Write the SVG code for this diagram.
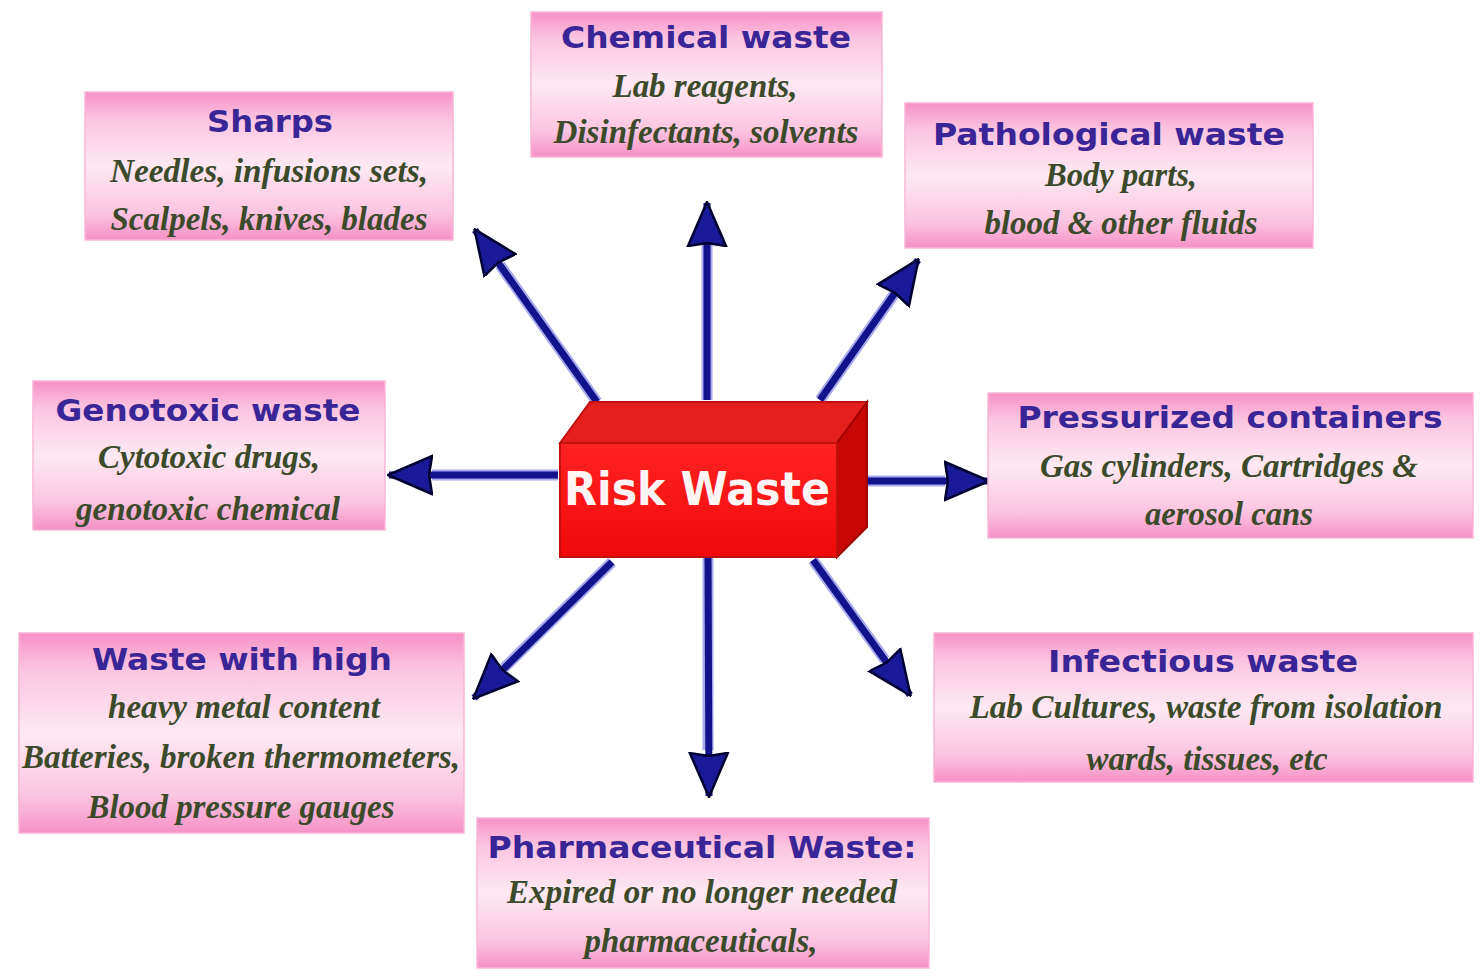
<svg xmlns="http://www.w3.org/2000/svg" width="1483" height="980" viewBox="0 0 1483 980">
<defs>
<linearGradient id="pink" x1="0" y1="0" x2="0" y2="1">
<stop offset="0" stop-color="#f591c6"/>
<stop offset="0.18" stop-color="#fbc4e0"/>
<stop offset="0.5" stop-color="#fee9f3"/>
<stop offset="0.82" stop-color="#fbc4e0"/>
<stop offset="1" stop-color="#f591c6"/>
</linearGradient>
<linearGradient id="front" x1="0" y1="0" x2="0" y2="1">
<stop offset="0" stop-color="#ff2222"/>
<stop offset="1" stop-color="#f00a0a"/>
</linearGradient>
<marker id="head" viewBox="0 0 46 42" refX="44" refY="21" markerWidth="46" markerHeight="42" markerUnits="userSpaceOnUse" orient="auto">
<path d="M1,2 L45,21 L1,40 L4,21 z" fill="#1a1a98" stroke="#000030" stroke-width="2.5" stroke-linejoin="miter"/>
</marker>
<style>
.box{fill:url(#pink);stroke:#f7b6d6;stroke-width:1.5}
.title{font-family:"DejaVu Sans",Verdana,sans-serif;font-weight:bold;font-size:31px;fill:#3a2596;text-anchor:middle}
.sub{font-family:"Liberation Serif","Times New Roman",serif;font-style:italic;font-weight:bold;font-size:33px;fill:#3b4a2b;text-anchor:middle}
.halo{stroke:#a8a8ec;stroke-width:11;fill:none;stroke-linecap:butt}
.arr{stroke:#12128a;stroke-width:7;fill:none;marker-end:url(#head)}
</style>
</defs>
<rect width="1483" height="980" fill="#ffffff"/>

<g id="connectors">
<line class="halo" x1="707" y1="400" x2="707" y2="245"/>
<line class="arr" x1="707" y1="400" x2="707" y2="203"/>
<line class="halo" x1="597" y1="402" x2="500" y2="265"/>
<line class="arr" x1="597" y1="402" x2="475" y2="230"/>
<line class="halo" x1="820" y1="400" x2="895" y2="293"/>
<line class="arr" x1="820" y1="400" x2="918" y2="260"/>
<line class="halo" x1="558" y1="475" x2="432" y2="475"/>
<line class="arr" x1="558" y1="475" x2="389" y2="475"/>
<line class="halo" x1="866" y1="481" x2="945" y2="481"/>
<line class="arr" x1="866" y1="481" x2="988" y2="481"/>
<line class="halo" x1="612" y1="562" x2="504" y2="668"/>
<line class="arr" x1="612" y1="562" x2="474" y2="698"/>
<line class="halo" x1="708" y1="557" x2="708" y2="750"/>
<line class="arr" x1="708" y1="557" x2="709" y2="796"/>
<line class="halo" x1="813" y1="560" x2="885" y2="660"/>
<line class="arr" x1="813" y1="560" x2="910" y2="695"/>
</g>

<g id="risk-waste">
<polygon points="560,443 590,402 867,402 837,443" fill="#e51e1e" stroke="#c01010" stroke-width="2"/>
<polygon points="837,443 867,402 867,527 837,557" fill="#c80606" stroke="#a00000" stroke-width="2"/>
<rect x="560" y="443" width="277" height="114" fill="url(#front)" stroke="#c01010" stroke-width="2"/>
<text x="697" y="505" font-family="DejaVu Sans,Verdana,sans-serif" font-weight="bold" font-size="46" fill="#fff4f4" text-anchor="middle" textLength="266" lengthAdjust="spacingAndGlyphs">Risk Waste</text>
</g>

<g id="chemical-waste">
<rect class="box" x="531" y="12" width="351" height="145"/>
<text class="title" x="706" y="48" textLength="290" lengthAdjust="spacingAndGlyphs">Chemical waste</text>
<text class="sub" x="705" y="97" textLength="185" lengthAdjust="spacingAndGlyphs">Lab reagents,</text>
<text class="sub" x="706" y="143" textLength="305" lengthAdjust="spacingAndGlyphs">Disinfectants, solvents</text>
</g>

<g id="sharps">
<rect class="box" x="85" y="92" width="368" height="148"/>
<text class="title" x="270" y="132" textLength="126" lengthAdjust="spacingAndGlyphs">Sharps</text>
<text class="sub" x="269" y="182" textLength="318" lengthAdjust="spacingAndGlyphs">Needles, infusions sets,</text>
<text class="sub" x="269" y="230" textLength="317" lengthAdjust="spacingAndGlyphs">Scalpels, knives, blades</text>
</g>

<g id="pathological-waste">
<rect class="box" x="905" y="103" width="408" height="145"/>
<text class="title" x="1109" y="145" textLength="352" lengthAdjust="spacingAndGlyphs">Pathological waste</text>
<text class="sub" x="1121" y="186" textLength="152" lengthAdjust="spacingAndGlyphs">Body parts,</text>
<text class="sub" x="1121" y="234" textLength="273" lengthAdjust="spacingAndGlyphs">blood &amp; other fluids</text>
</g>

<g id="genotoxic-waste">
<rect class="box" x="33" y="381" width="352" height="149"/>
<text class="title" x="208" y="421" textLength="305" lengthAdjust="spacingAndGlyphs">Genotoxic waste</text>
<text class="sub" x="209" y="468" textLength="222" lengthAdjust="spacingAndGlyphs">Cytotoxic drugs,</text>
<text class="sub" x="208" y="520" textLength="264" lengthAdjust="spacingAndGlyphs">genotoxic chemical</text>
</g>

<g id="pressurized-containers">
<rect class="box" x="988" y="393" width="485" height="145"/>
<text class="title" x="1230" y="428" textLength="425" lengthAdjust="spacingAndGlyphs">Pressurized containers</text>
<text class="sub" x="1229" y="477" textLength="378" lengthAdjust="spacingAndGlyphs">Gas cylinders, Cartridges &amp;</text>
<text class="sub" x="1229" y="525" textLength="168" lengthAdjust="spacingAndGlyphs">aerosol cans</text>
</g>

<g id="heavy-metal-waste">
<rect class="box" x="19" y="633" width="445" height="200"/>
<text class="title" x="242" y="670" textLength="300" lengthAdjust="spacingAndGlyphs">Waste with high</text>
<text class="sub" x="244" y="718" textLength="272" lengthAdjust="spacingAndGlyphs">heavy metal content</text>
<text class="sub" x="241" y="768" textLength="438" lengthAdjust="spacingAndGlyphs">Batteries, broken thermometers,</text>
<text class="sub" x="241" y="818" textLength="307" lengthAdjust="spacingAndGlyphs">Blood pressure gauges</text>
</g>

<g id="infectious-waste">
<rect class="box" x="934" y="633" width="539" height="149"/>
<text class="title" x="1203" y="672" textLength="310" lengthAdjust="spacingAndGlyphs">Infectious waste</text>
<text class="sub" x="1206" y="718" textLength="473" lengthAdjust="spacingAndGlyphs">Lab Cultures, waste from isolation</text>
<text class="sub" x="1207" y="770" textLength="241" lengthAdjust="spacingAndGlyphs">wards, tissues, etc</text>
</g>

<g id="pharmaceutical-waste">
<rect class="box" x="477" y="818" width="452" height="150"/>
<text class="title" x="702" y="858" textLength="429" lengthAdjust="spacingAndGlyphs">Pharmaceutical Waste:</text>
<text class="sub" x="702" y="903" textLength="390" lengthAdjust="spacingAndGlyphs">Expired or no longer needed</text>
<text class="sub" x="701" y="952" textLength="233" lengthAdjust="spacingAndGlyphs">pharmaceuticals,</text>
</g>
</svg>
